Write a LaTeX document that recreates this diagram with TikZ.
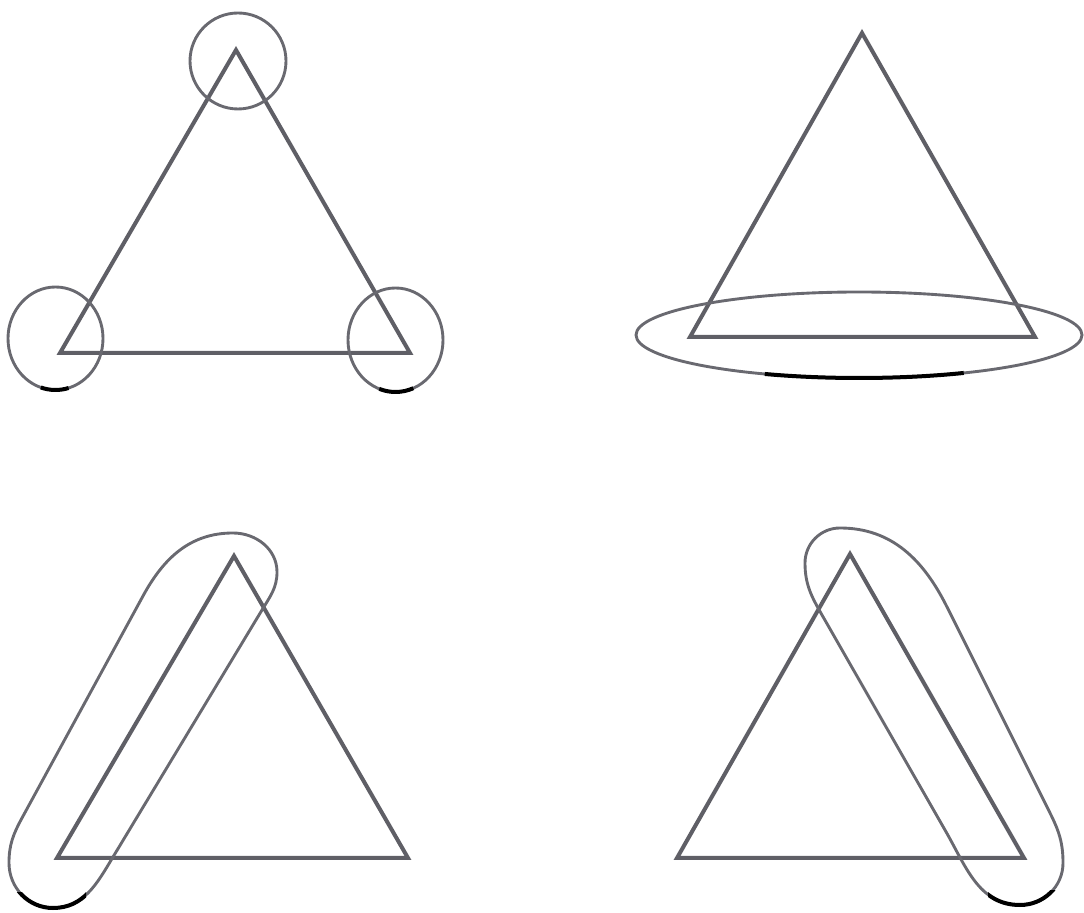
\documentclass[tikz,border=0pt]{standalone}
\usepackage{tikz}
\usepackage{xcolor}
\definecolor{linegray}{RGB}{95,95,102}
\definecolor{ringgray}{RGB}{105,105,112}
% hand drawn loops round one side
\newcommand{\leftloop}{(22,95) -- (143,317) to[out=61.5, in=180] (233,380) to[out=0, in=90] (277,341) to[out=-90, in=59] (262,303) -- (113,56) to[out=-121, in=0] (53,5) to[out=180, in=-90] (9,50) to[out=90, in=-118.5] cycle}
\newcommand{\rightloop}{(822,298) -- (945,83) to[out=-60, in=180] (1020,8) to[out=0, in=-90] (1063,50) to[out=90, in=-63.5] (1050,100) -- (947,306) to[out=116.5, in=0] (840,385) to[out=180, in=90] (805,350) to[out=-90, in=119.8] cycle}

\begin{document}
\begin{tikzpicture}[x=0.025cm, y=0.025cm,
    tri/.style={draw=linegray, line width=0.1cm, line join=miter},
    ring/.style={draw=ringgray, line width=0.072cm},
    smudge/.style={draw=black, line width=0.1cm}]
    \useasboundingbox (0,0) rectangle (1084,913);

    % top left: every corner ringed
    \coordinate (apexA) at (236,863);
    \coordinate (leftA) at (60,560);
    \coordinate (rightA) at (410,560);
    \draw[tri] (apexA) -- (leftA) -- (rightA) -- cycle;
    \draw[ring] (238,852) circle[radius=48];
    \draw[ring] (55.5,574.5) ellipse[x radius=47.5, y radius=51.5];
    \draw[ring] (395.5,573) ellipse[x radius=47.5, y radius=52];
    \draw[smudge] (55.5,574.5) ++(252:47.5 and 51.5) arc[start angle=252, end angle=286, x radius=47.5, y radius=51.5];
    \draw[smudge] (395.5,573) ++(250:47.5 and 52) arc[start angle=250, end angle=292, x radius=47.5, y radius=52];

    % top right: base ringed
    \coordinate (apexB) at (862,880);
    \coordinate (leftB) at (690,576);
    \coordinate (rightB) at (1035,576);
    \draw[tri] (apexB) -- (leftB) -- (rightB) -- cycle;
    \draw[ring] (859,578) ellipse[x radius=223, y radius=43];
    \draw[smudge] (859,578) ++(245:223 and 43) arc[start angle=245, end angle=298, x radius=223, y radius=43];

    % bottom left: left side ringed
    \coordinate (apexC) at (234,357);
    \coordinate (leftC) at (57,55);
    \coordinate (rightC) at (408,55);
    \draw[tri] (apexC) -- (leftC) -- (rightC) -- cycle;
    \draw[ring] \leftloop;
    \begin{scope}
        \clip (12,-5) rectangle (86,20);
        \draw[smudge] \leftloop;
    \end{scope}

    % bottom right: right side ringed
    \coordinate (apexD) at (850,359);
    \coordinate (leftD) at (677,55);
    \coordinate (rightD) at (1024,55);
    \draw[tri] (apexD) -- (leftD) -- (rightD) -- cycle;
    \draw[ring] \rightloop;
    \begin{scope}
        \clip (988,-5) rectangle (1058,22);
        \draw[smudge] \rightloop;
    \end{scope}
\end{tikzpicture}
\end{document}
